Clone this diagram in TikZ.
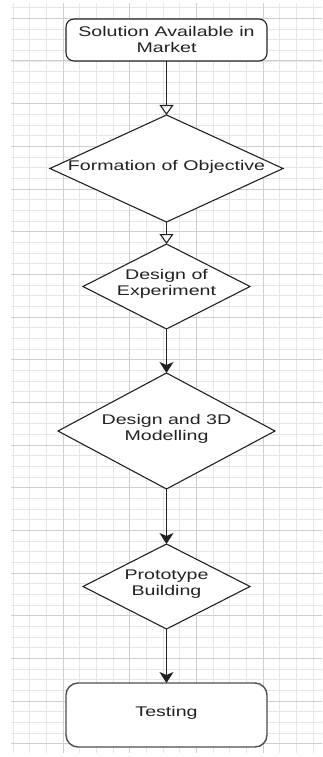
\documentclass[tikz,border=0pt]{standalone}
\usepackage{fontspec}
\setmainfont[FakeStretch=1.4]{Liberation Sans}
\usetikzlibrary{shapes.geometric,arrows.meta}
\definecolor{gmajor}{HTML}{CFCFCF}
\definecolor{gminor}{HTML}{E6E6E6}
\definecolor{ink}{HTML}{222222}
\tikzset{
  shp/.style={draw=ink, line width=1.1pt, fill=white, inner sep=0pt, outer sep=0pt},
  rbox/.style={shp, rectangle, rounded corners=8pt},
  dmd/.style={shp, diamond},
  lbl/.style={font=\fontsize{14}{16}\selectfont, text=ink, align=center, inner sep=0pt},
  openarr/.style={draw=ink, line width=1.3pt, -{Triangle[open, width=14pt, length=10pt, line width=1.1pt]}},
  fillarr/.style={draw=ink, line width=1.3pt, -{Stealth[width=14pt, length=11pt, inset=3pt]}},
}
\begin{document}
\begin{tikzpicture}[x=1pt, y=-1pt]
\useasboundingbox (0,0) rectangle (322,757);
% grid
\begin{scope}
\clip (11,4) rectangle (322,752);
\foreach \k in {-4,...,16} {
  \pgfmathsetmacro{\xx}{63+16.667*\k}
  \draw[gminor, line width=0.8pt] (\xx,0) -- (\xx,757);
}
\foreach \k in {-5,...,65} {
  \pgfmathsetmacro{\yy}{61+10.667*\k}
  \draw[gminor, line width=0.8pt] (0,\yy) -- (322,\yy);
}
\foreach \k in {-1,...,4} {
  \pgfmathsetmacro{\xx}{63+66.667*\k}
  \draw[gmajor, line width=1pt] (\xx,0) -- (\xx,757);
}
\foreach \k in {-2,...,16} {
  \pgfmathsetmacro{\yy}{61+42.667*\k}
  \draw[gmajor, line width=1pt] (0,\yy) -- (322,\yy);
}
\end{scope}
% shapes
\node[rbox, minimum width=201pt, minimum height=42pt] (b1) at (166.5,40) {};
\node[dmd, minimum width=233pt, minimum height=107pt] (d1) at (166.5,168.5) {};
\node[dmd, minimum width=167pt, minimum height=85pt] (d2) at (166.5,286.5) {};
\node[dmd, minimum width=217pt, minimum height=116pt] (d3) at (166.5,431) {};
\node[dmd, minimum width=167pt, minimum height=85pt] (d4) at (166.5,586.5) {};
\node[rbox, rounded corners=12pt, draw=ink!80, line width=1.4pt, minimum width=201pt, minimum height=64pt] (b2) at (166.5,715) {};
% labels
\node[lbl] (t1) at (166.5,39) {Solution Available in\\Market};
\node[lbl] (t2) at (166.5,166.5) {Formation of Objective};
\node[lbl] (t3) at (166.5,284) {Design of\\Experiment};
\node[lbl] (t4) at (166.5,428.5) {Design and 3D\\Modelling};
\node[lbl] (t5) at (166.5,584) {Prototype\\Building};
\node[lbl] (t6) at (166.5,712.5) {Testing};
% connectors
\draw[openarr] (b1.south) -- (d1.north);
\draw[openarr] (d1.south) -- (d2.north);
\draw[fillarr] (d2.south) -- (d3.north);
\draw[fillarr] (d3.south) -- (d4.north);
\draw[fillarr] (d4.south) -- (b2.north);
\end{tikzpicture}
\end{document}
